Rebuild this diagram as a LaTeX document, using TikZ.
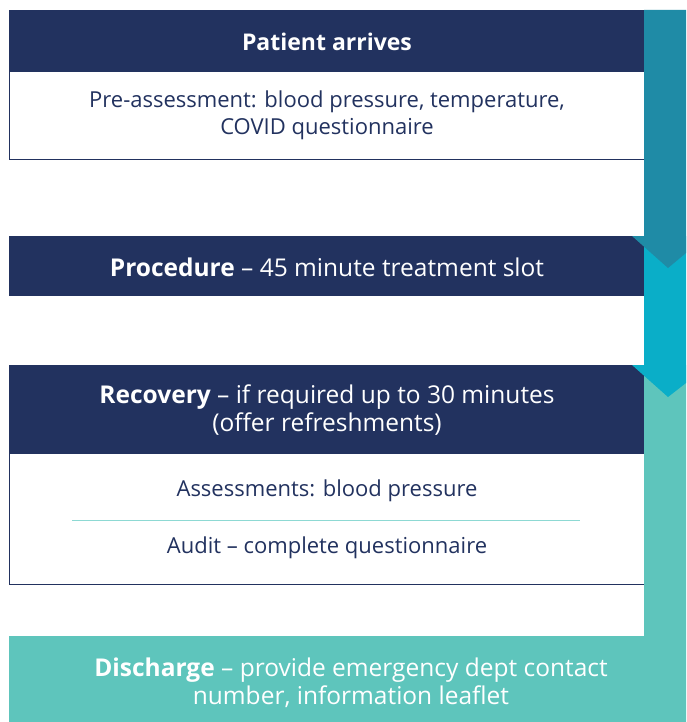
\documentclass[tikz,border=0pt]{standalone}
\usepackage{fontspec}
\setmainfont{Open Sans}
\definecolor{navy}{HTML}{22325F}
\definecolor{tealdark}{HTML}{1F8BA6}
\definecolor{tealmid}{HTML}{0AAEC8}
\definecolor{teallight}{HTML}{5EC5BC}
\definecolor{rulecol}{HTML}{8DD9D3}
\tikzset{
  headbox/.style={fill=navy},
  bodybox/.style={draw=navy, line width=1pt, fill=white},
  headtxt/.style={text=white, align=center, inner sep=0pt, font=\fontsize{24.5}{28}\selectfont},
  bodytxt/.style={text=navy, align=center, inner sep=0pt, font=\fontsize{22}{27}\selectfont},
}
\begin{document}
\begin{tikzpicture}[x=1pt, y=-1pt]
\useasboundingbox (0,0) rectangle (686,722);
\fill[white] (0,0) rectangle (686,722);
% step 1
\draw[bodybox] (9.5,72) rectangle (644,160);
\fill[headbox] (9,10) rectangle (644,72);
\node[headtxt, font=\fontsize{23}{28}\selectfont] (arrive) at (327,42) {\bfseries Patient arrives};
\node[bodytxt] (preassess) at (327,115) {Pre-assessment: blood pressure, temperature,\\COVID questionnaire};
% step 2
\fill[headbox] (9,236) rectangle (644,296);
\node[headtxt] (procedure) at (327,267) {\textbf{Procedure} -- 45 minute treatment slot};
% step 3
\draw[bodybox] (9.5,453) rectangle (644,584);
\fill[headbox] (9,365) rectangle (644,453);
\node[headtxt] (recovery) at (327,410) {\textbf{Recovery} -- if required up to 30 minutes\\(offer refreshments)};
\node[bodytxt] (checks) at (327,491) {Assessments: blood pressure};
\draw[rulecol, line width=1pt] (72,520) -- (580,520);
\node[bodytxt] (audit) at (327,548) {Audit -- complete questionnaire};
% side arrows
\fill[teallight] (644,365) -- (686,365) -- (686,722) -- (9,722) -- (9,636) -- (644,636) -- cycle;
\fill[tealmid] (644,236) -- (686,236) -- (686,383) -- (668,397) -- (632,365) -- (644,365) -- cycle;
\fill[tealdark] (644,10) -- (686,10) -- (686,253) -- (668,268) -- (632,236) -- (644,236) -- cycle;
% step 4
\node[headtxt] (discharge) at (351,683) {\textbf{Discharge} -- provide emergency dept contact\\number, information leaflet};
\end{tikzpicture}
\end{document}
